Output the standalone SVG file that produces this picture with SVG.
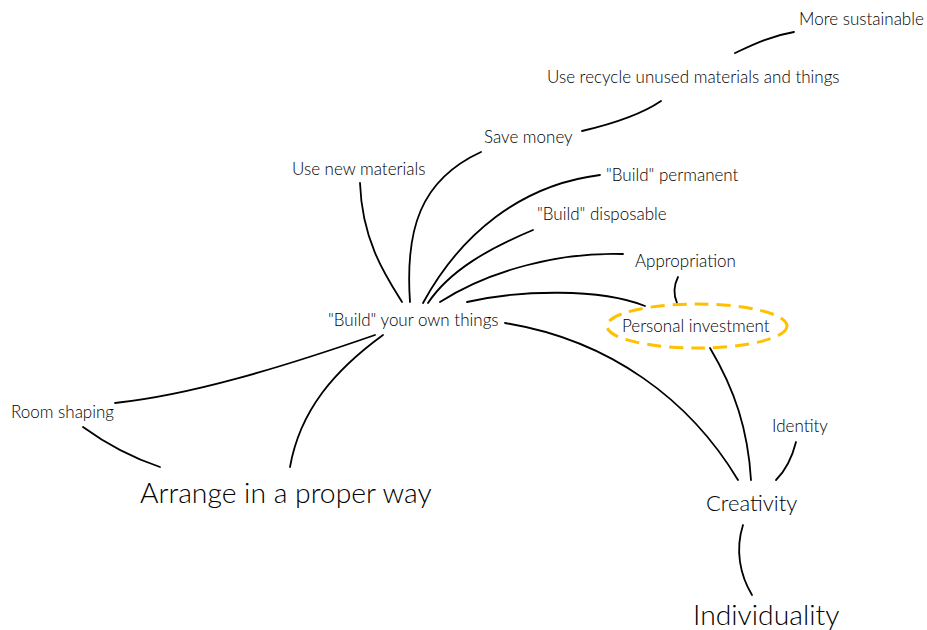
<svg xmlns="http://www.w3.org/2000/svg" width="927" height="630" viewBox="0 0 927 630">
  <style>
    text { font-family: Lato, "Open Sans", "Liberation Sans", sans-serif; font-weight: 300; fill: #000; }
    .s { font-size: 17px; }
    .m { font-size: 22px; }
    .l { font-size: 28.3px; }
    .link { fill: none; stroke: #000; stroke-width: 1.8; stroke-linecap: round; }
    .hl { fill: none; stroke: #FFC000; stroke-width: 3; stroke-dasharray: 14 8; }
  </style>
  <rect width="927" height="630" fill="#fff"/>

  <g id="connectors">
    <path class="link" d="M735,53 C752,45 770,36 794,32"/>
    <path class="link" d="M582,131 C612,124 642,114 661,101"/>
    <path class="link" d="M360,183 C362,240 385,275 402,302"/>
    <path class="link" d="M481,152 C420,180 405,230 410,302"/>
    <path class="link" d="M600,175 C520,185 460,235 423,303"/>
    <path class="link" d="M533,230 C490,248 450,270 428,303"/>
    <path class="link" d="M623,254 C560,252 490,270 440,302"/>
    <path class="link" d="M467,302 C520,290 600,288 645,306"/>
    <path class="link" d="M678,277 C673,287 674,296 677,303"/>
    <path class="link" d="M505,323 C610,340 690,400 738,480"/>
    <path class="link" d="M710,348 C735,390 748,430 751,480"/>
    <path class="link" d="M796,442 C792,458 786,470 776,480"/>
    <path class="link" d="M743,525 C735,550 740,575 752,595"/>
    <path class="link" d="M375,335 C280,368 190,395 115,403"/>
    <path class="link" d="M383,335 C335,370 300,410 290,467"/>
    <path class="link" d="M83,427 C105,443 130,457 160,467"/>
  </g>

  <g id="more-sustainable"><text class="s" x="799" y="25">More sustainable</text></g>
  <g id="use-recycle"><text class="s" x="547" y="83">Use recycle unused materials and things</text></g>
  <g id="save-money"><text class="s" x="484" y="143">Save money</text></g>
  <g id="use-new"><text class="s" x="292" y="175">Use new materials</text></g>
  <g id="build-permanent"><text class="s" x="606" y="181">"Build" permanent</text></g>
  <g id="build-disposable"><text class="s" x="537" y="220">"Build" disposable</text></g>
  <g id="appropriation"><text class="s" x="635" y="267">Appropriation</text></g>
  <g id="build-own"><text class="s" x="328" y="326">"Build" your own things</text></g>
  <g id="personal-investment">
    <ellipse class="hl" cx="697" cy="326" rx="90" ry="22"/>
    <text class="s" x="622" y="332">Personal investment</text>
  </g>
  <g id="room-shaping"><text class="s" x="11" y="418">Room shaping</text></g>
  <g id="arrange"><text class="l" x="140" y="503">Arrange in a proper way</text></g>
  <g id="identity"><text class="s" x="772" y="432">Identity</text></g>
  <g id="creativity"><text class="m" x="706" y="511">Creativity</text></g>
  <g id="individuality"><text class="l" x="693" y="625">Individuality</text></g>
</svg>
